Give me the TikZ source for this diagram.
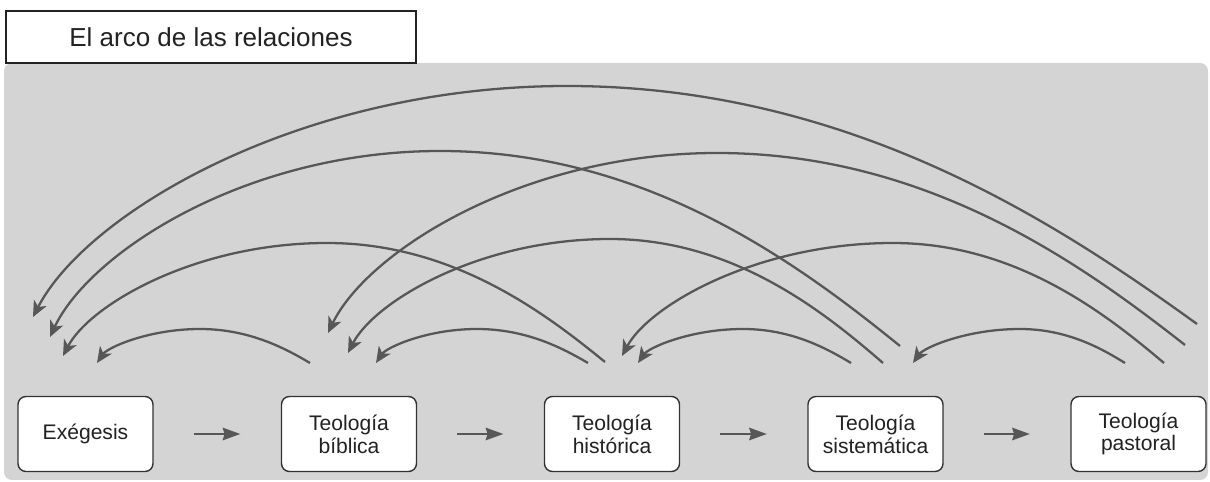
\documentclass[tikz,border=0pt]{standalone}
\usepackage{fontspec}
\setmainfont{Liberation Sans}
\usetikzlibrary{arrows.meta,calc}
\definecolor{bggray}{HTML}{D4D4D4}
\definecolor{arcgray}{HTML}{575757}
\definecolor{boxline}{HTML}{333333}
\definecolor{txt}{HTML}{222222}

% arc from start (#1) over peak (#3) to arrow tip (#2)
\newcommand{\relarc}[3]{%
  \draw[arcline] let \p1=(#1), \p2=(#2), \p3=(#3) in
    (\p1) .. controls ({\x1-0.22*(\x1-\x3)},{\y1+0.42*(\y3-\y1)}) and ({\x3+0.45*(\x1-\x3)},\y3) .. (\p3)
    .. controls ({\x3-0.5*(\x3-\x2)},\y3) and ({\x2+0.1*(\x3-\x2)},{\y2+0.45*(\y3-\y2)}) .. (\p2);
}

\begin{document}
\begin{tikzpicture}[x=0.02cm,y=-0.02cm,
  stagebox/.style={draw=boxline, line width=0.8pt, fill=white, rounded corners=4.5pt,
    minimum width=2.7cm, minimum height=1.5cm, inner sep=0pt, align=center,
    text=txt, font=\fontsize{12}{13}\selectfont},
  titlebox/.style={draw=txt, line width=1.2pt, fill=white, minimum width=8.2cm,
    minimum height=1.04cm, inner sep=0pt, text=txt, font=\fontsize{14.8}{16}\selectfont},
  arcline/.style={draw=arcgray, line width=1.3pt, -{Stealth[length=9pt,width=8pt,inset=2.5pt]}},
  flow/.style={draw=arcgray, line width=1.5pt, -{Stealth[length=10pt,width=7pt,inset=1pt]},
    shorten <=22.7pt, shorten >=23pt}]
\useasboundingbox (0,0) rectangle (1210,482);
\fill[bggray, rounded corners=4.5pt] (4,63) rectangle (1208,480);
\node[titlebox] (title) at (211,37) {El arco de las relaciones};

\node[stagebox] (ex) at (85.5,434) {Exégesis};
\node[stagebox] (bi) at (349,434) {Teología\\bíblica};
\node[stagebox] (hi) at (612,434) {Teología\\histórica};
\node[stagebox] (si) at (875.5,434) {Teología\\sistemática};
\node[stagebox] (pa) at (1138.5,434) {Teología\\pastoral};

\draw[flow] (ex) -- (bi);
\draw[flow] (bi) -- (hi);
\draw[flow] (hi) -- (si);
\draw[flow] (si) -- (pa);

% span 1
\coordinate (s12) at (310,363); \coordinate (p12) at (200,329); \coordinate (t12) at (97,363);
\coordinate (s23) at (588,363); \coordinate (p23) at (477,329); \coordinate (t23) at (376,363);
\coordinate (s34) at (851,363); \coordinate (p34) at (743,329); \coordinate (t34) at (638,363);
\coordinate (s45) at (1125,363); \coordinate (p45) at (1020,329); \coordinate (t45) at (913,363);
% span 2
\coordinate (s13) at (605,362); \coordinate (p13) at (327,243); \coordinate (t13) at (63,356);
\coordinate (s24) at (883,363); \coordinate (p24) at (610,239); \coordinate (t24) at (348,353);
\coordinate (s35) at (1164,363); \coordinate (p35) at (893,243); \coordinate (t35) at (622,356);
% span 3
\coordinate (s14) at (900,346); \coordinate (p14) at (440,151); \coordinate (t14) at (50,337);
\coordinate (s25) at (1185,345); \coordinate (p25) at (717,153); \coordinate (t25) at (328,333);
% span 4
\coordinate (s15) at (1197,324); \coordinate (p15) at (567,86); \coordinate (t15) at (33,317);

\relarc{s12}{t12}{p12}
\relarc{s23}{t23}{p23}
\relarc{s34}{t34}{p34}
\relarc{s45}{t45}{p45}
\relarc{s13}{t13}{p13}
\relarc{s24}{t24}{p24}
\relarc{s35}{t35}{p35}
\relarc{s14}{t14}{p14}
\relarc{s25}{t25}{p25}
\relarc{s15}{t15}{p15}
\end{tikzpicture}
\end{document}
